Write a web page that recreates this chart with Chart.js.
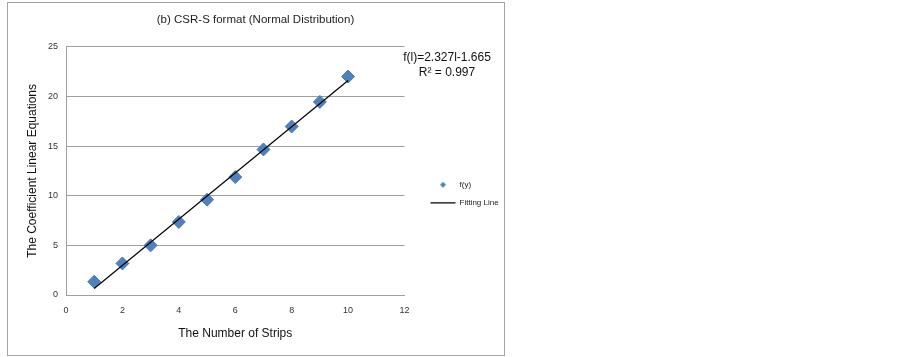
<!DOCTYPE html>
<html>
<head>
<meta charset="utf-8">
<script src="https://cdn.jsdelivr.net/npm/chart.js@4/dist/chart.umd.min.js"></script>
<style>
  html, body { margin:0; padding:0; background:#fff; }
  #frame { position:absolute; left:7px; top:2px; width:498px; height:354px; border:1px solid #a6a6a6; box-sizing:border-box; }
  #frame canvas { display:block; }
</style>
</head>
<body>
<div id="frame"><canvas id="c" width="496" height="352"></canvas></div>
<script>
const strips    = [1, 2, 3, 4, 5, 6, 7, 8, 9, 10];
const coeffs    = [1.33, 3.18, 5.0, 7.36, 9.6, 11.88, 14.66, 16.97, 19.45, 22.0];
const fitX      = [1, 10];
const fitY      = [0.66, 21.6];
const eqLines   = ['f(l)=2.327l-1.665', 'R\u00B2 = 0.997'];

const FONT = '"Liberation Sans", Arial, sans-serif';
const BLUE = '#4f81bd';
Chart.defaults.font.family = FONT;
Chart.defaults.color = '#222';

// small diamond glyph for the legend (so it is not stretched by pointStyleWidth)
const legendDiamond = document.createElement('canvas');
legendDiamond.width = 7; legendDiamond.height = 7;
(() => {
  const g = legendDiamond.getContext('2d');
  g.fillStyle = BLUE;
  g.beginPath(); g.moveTo(3.5, 0.5); g.lineTo(6.5, 3.5); g.lineTo(3.5, 6.5); g.lineTo(0.5, 3.5); g.closePath(); g.fill();
})();

const eqPlugin = {
  id: 'eqText',
  afterDraw(chart) {
    const ctx = chart.ctx;
    ctx.save();
    ctx.font = '12px ' + FONT;
    ctx.fillStyle = '#111';
    ctx.textAlign = 'center';
    ctx.textBaseline = 'middle';
    ctx.fillText(eqLines[0], 439, 55);
    ctx.fillText(eqLines[1], 439, 70);
    ctx.restore();
  }
};

new Chart(document.getElementById('c'), {
  type: 'scatter',
  data: {
    datasets: [
      { label:'f(y)', data: strips.map((x, i) => ({ x, y: coeffs[i] })),
        pointStyle:'rectRot', pointRadius:6.5, pointHoverRadius:6.5,
        backgroundColor:BLUE, borderColor:'#4a7ab3', borderWidth:1, order:2 },
      { label:'Fitting Line', data: fitX.map((x, i) => ({ x, y: fitY[i] })),
        type:'line', showLine:true, pointRadius:0, pointStyle:'line',
        borderColor:'#000', backgroundColor:'#000', borderWidth:1.2, order:1 },
    ]
  },
  options: {
    responsive:false,
    animation:false,
    layout: { padding: { left:0, right:1, top:0, bottom:0 } },
    plugins: {
      title: { display:true, text:'(b) CSR-S format (Normal Distribution)', color:'#222',
        font:{ size:11.5, weight:'normal' }, padding:{ top:10, bottom:20 } },
      legend: {
        position:'right', align:'center',
        title: { display:true, text:' ', padding:{ top:8, bottom:12 }, font:{ size:8 } },
        labels: {
          usePointStyle:true, boxHeight:4, pointStyleWidth:25, color:'#222',
          font:{ size:8 }, padding:10,
          sort: (a, b) => a.datasetIndex - b.datasetIndex,
          generateLabels(chart) {
            const items = Chart.defaults.plugins.legend.labels.generateLabels(chart);
            items.forEach(it => { if (it.datasetIndex === 0) it.pointStyle = legendDiamond; });
            return items;
          }
        }
      },
      tooltip: { enabled:false }
    },
    scales: {
      x: {
        type:'linear', min:0, max:12,
        ticks:{ stepSize:2, padding:10, color:'#333', font:{ size:9 } },
        grid:{ display:false, drawTicks:false },
        border:{ display:true, color:'#a0a0a0', width:1 },
        title:{ display:true, text:'The Number of Strips', color:'#111', font:{ size:12 }, padding:{ top:8, bottom:14 } },
        afterFit(s) { s.height = 60; }
      },
      y: {
        min:0, max:25,
        ticks:{ stepSize:5, padding:8, color:'#333', font:{ size:9 } },
        grid:{ color:'#a0a0a0', lineWidth:1, drawTicks:false },
        border:{ display:true, color:'#a0a0a0', width:1 },
        title:{ display:true, text:'The Coefficient Linear Equations', color:'#111', font:{ size:12 }, padding:{ top:17, bottom:4 } },
        afterFit(s) { s.width = 58; }
      },
      gap: {
        position:'right', display:true,
        ticks:{ display:false }, grid:{ display:false, drawTicks:false }, border:{ display:false },
        afterFit(s) { s.width = 16; }
      }
    }
  },
  plugins:[eqPlugin]
});
</script>
</body>
</html>
